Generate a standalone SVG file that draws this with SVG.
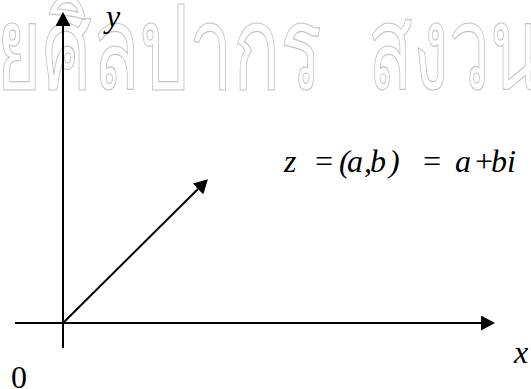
<svg xmlns="http://www.w3.org/2000/svg" width="531" height="389" viewBox="0 0 531 389">
<style>
.wm{font-family:"Noto Sans","DejaVu Sans",sans-serif;font-size:116px;fill:none;stroke:#c4c4c4;stroke-width:1.2}
.ax{stroke:#000;stroke-width:2;fill:none}
.lb{font-family:"Liberation Serif","Times New Roman",serif;font-size:32px;font-style:italic;fill:#000}
.num{font-family:"Liberation Serif","Times New Roman",serif;font-size:32px;fill:#000}
</style>
<defs>
<marker id="ah" markerWidth="15" markerHeight="15" refX="0" refY="7.5" orient="auto" markerUnits="userSpaceOnUse">
<path d="M0,0 L14,7.5 L0,15 z" fill="#000"/>
</marker>
</defs>
<rect width="531" height="389" fill="#fff"/>
<g id="watermark">
<text class="wm" x="-52" y="89" textLength="374" lengthAdjust="spacingAndGlyphs">ลัยศิลปากร</text>
<text class="wm" x="368" y="89" textLength="172" lengthAdjust="spacingAndGlyphs">สงวน</text>
</g>
<g id="connectors">
<line class="ax" x1="63" y1="348" x2="63" y2="26" marker-end="url(#ah)"/>
<line class="ax" x1="15" y1="323" x2="481" y2="323" marker-end="url(#ah)"/>
<line class="ax" x1="63" y1="323" x2="198" y2="189" marker-end="url(#ah)"/>
</g>
<g id="label-y"><text class="lb" x="106" y="27" font-size="30">y</text></g>
<g id="label-x"><text class="lb" x="514" y="363">x</text></g>
<g id="label-origin"><text class="num" x="11" y="388">0</text></g>
<g id="label-z">
<text class="lb" y="172"><tspan x="284">z</tspan><tspan x="313">=</tspan><tspan x="339">(</tspan><tspan x="347">a</tspan><tspan x="364">,</tspan><tspan x="370">b</tspan><tspan x="389">)</tspan><tspan x="421">=</tspan><tspan x="455">a</tspan><tspan x="473">+</tspan><tspan x="491">b</tspan><tspan x="507">i</tspan></text>
</g>
</svg>
